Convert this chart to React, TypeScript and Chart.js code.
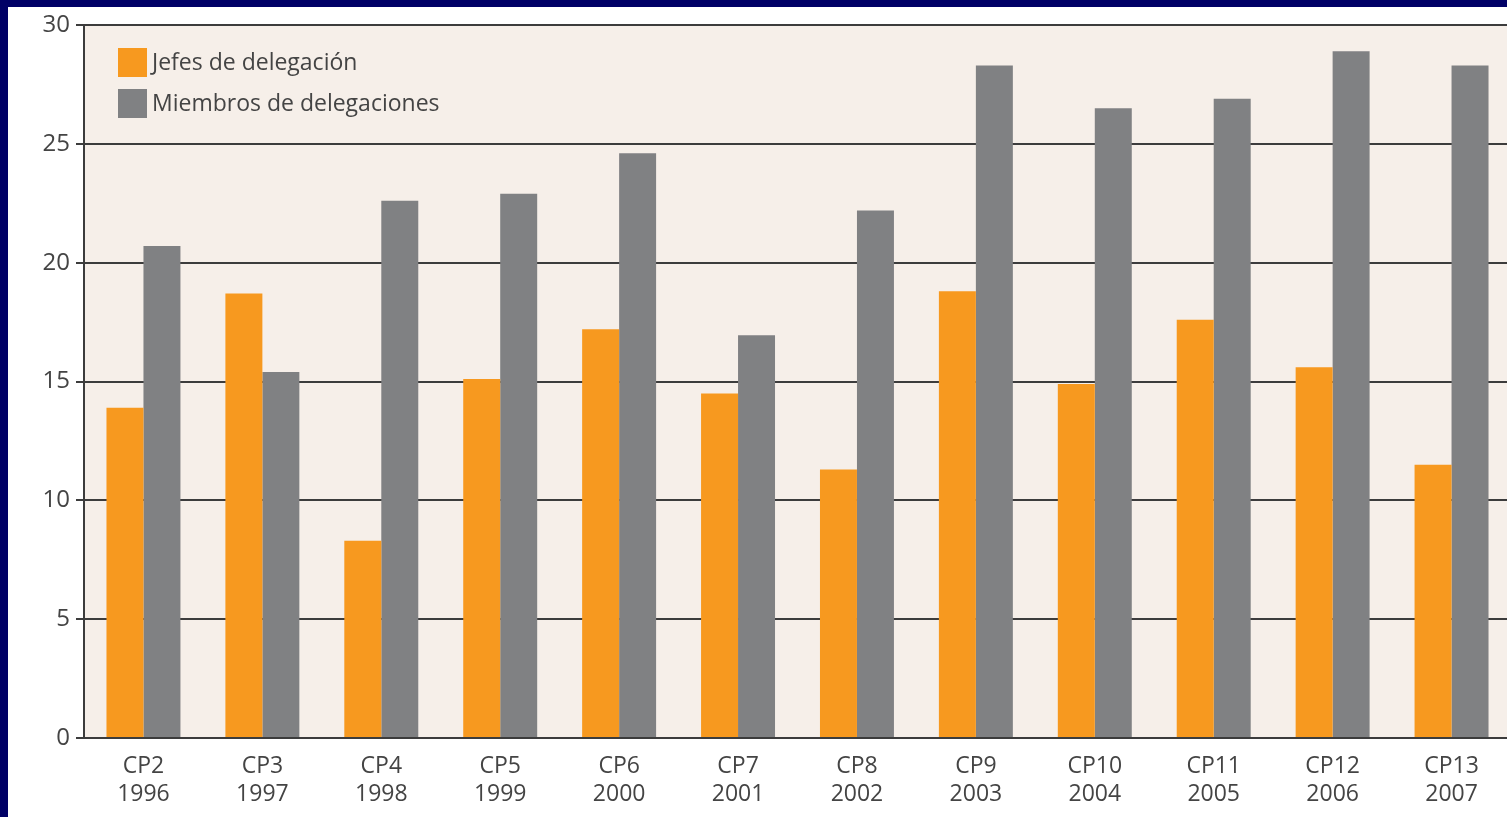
import React, { useEffect, useRef } from "react";
import { Chart, registerables } from "chart.js";

Chart.register(...registerables);

const conferences = ["CP2", "CP3", "CP4", "CP5", "CP6", "CP7", "CP8", "CP9", "CP10", "CP11", "CP12", "CP13"];
const years = ["1996", "1997", "1998", "1999", "2000", "2001", "2002", "2003", "2004", "2005", "2006", "2007"];
const jefes = [13.9, 18.7, 8.3, 15.1, 17.2, 14.5, 11.3, 18.8, 14.9, 17.6, 15.6, 11.5];
const miembros = [20.7, 15.4, 22.6, 22.9, 24.6, 16.95, 22.2, 28.3, 26.5, 26.9, 28.9, 28.3];
const seriesNames = ["Jefes de delegación", "Miembros de delegaciones"];
const seriesColors = ["#f7991f", "#808183"];

const FONT = "'Open Sans', 'DejaVu Sans', sans-serif";
const TEXT = "#444444";
const LINE = "#3c3c3c";

const areaBg = {
  id: "areaBg",
  beforeDraw(chart: any) {
    const { ctx, chartArea } = chart;
    ctx.save();
    ctx.fillStyle = "#f6efe9";
    ctx.fillRect(chartArea.left, chartArea.top, chartArea.right - chartArea.left, chartArea.bottom - chartArea.top);
    ctx.restore();
  },
};

const innerLegend = {
  id: "innerLegend",
  afterDraw(chart: any) {
    const { ctx, chartArea } = chart;
    ctx.save();
    const x0 = chartArea.left + 34;
    const y0 = chartArea.top + 23;
    const box = 29;
    const gap = 41;
    ctx.font = `23px ${FONT}`;
    ctx.textBaseline = "middle";
    ctx.textAlign = "left";
    chart.data.datasets.forEach((ds: any, i: number) => {
      const y = y0 + i * gap;
      ctx.fillStyle = ds.backgroundColor;
      ctx.fillRect(x0, y, box, box);
      ctx.fillStyle = TEXT;
      ctx.fillText(ds.label, x0 + box + 5, y + box / 2 + 1);
    });
    ctx.restore();
  },
};

export default function App() {
  const ref = useRef<HTMLCanvasElement>(null);
  useEffect(() => {
    document.body.style.background = "#000066";
    document.body.style.margin = "0";
    const chart = new Chart(ref.current as HTMLCanvasElement, {
      type: "bar",
      data: {
        labels: conferences.map((c, i) => [c, years[i]]),
        datasets: [
          { label: seriesNames[0], data: jefes, backgroundColor: seriesColors[0], borderWidth: 0 },
          { label: seriesNames[1], data: miembros, backgroundColor: seriesColors[1], borderWidth: 0 },
        ],
      },
      options: {
        animation: false,
        responsive: true,
        maintainAspectRatio: false,
        layout: { padding: { top: 17, right: 0, left: 0, bottom: 0 } },
        plugins: { legend: { display: false }, tooltip: { enabled: false } },
        datasets: { bar: { categoryPercentage: 0.622, barPercentage: 1.0 } },
        scales: {
          x: {
            grid: { display: false },
            border: { display: true, color: LINE, width: 2 },
            ticks: { color: TEXT, font: { family: FONT, size: 23, lineHeight: 1.22 }, padding: 6, maxRotation: 0, autoSkip: false },
            afterFit(scale: any) { scale.height = 79; },
          },
          y: {
            min: 0,
            max: 30,
            ticks: { stepSize: 5, color: TEXT, font: { family: FONT, size: 24, lineHeight: 1.0 }, padding: 6 },
            grid: { color: LINE, lineWidth: 2, tickLength: 8, drawTicks: true },
            border: { display: true, color: LINE, width: 2 },
            afterFit(scale: any) { scale.width = 76; },
          },
        },
      },
      plugins: [areaBg, innerLegend],
    });
    return () => chart.destroy();
  }, []);
  return (
    <div style={{ position: "fixed", left: 0, top: 0, width: "100vw", height: "100vh", overflow: "hidden" }}>
      <div style={{ position: "absolute", left: 8, top: 7, width: 1503, height: 810, background: "#ffffff" }}>
        <canvas ref={ref} />
      </div>
    </div>
  );
}
